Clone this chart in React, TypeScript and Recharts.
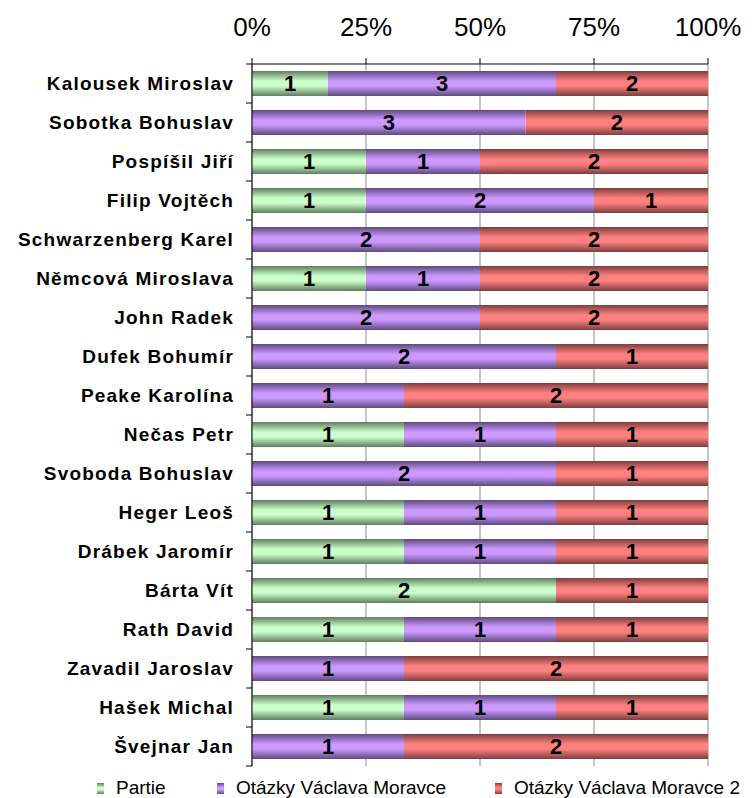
import { BarChart, Bar, XAxis, YAxis, CartesianGrid, LabelList } from "recharts";

const names = [
  "Kalousek Miroslav",
  "Sobotka Bohuslav",
  "Pospíšil Jiří",
  "Filip Vojtěch",
  "Schwarzenberg Karel",
  "Němcová Miroslava",
  "John Radek",
  "Dufek Bohumír",
  "Peake Karolína",
  "Nečas Petr",
  "Svoboda Bohuslav",
  "Heger Leoš",
  "Drábek Jaromír",
  "Bárta Vít",
  "Rath David",
  "Zavadil Jaroslav",
  "Hašek Michal",
  "Švejnar Jan",
];
const partie = [1, 0, 1, 1, 0, 1, 0, 0, 0, 1, 0, 1, 1, 2, 1, 0, 1, 0];
const otazky = [3, 3, 1, 2, 2, 1, 2, 2, 1, 1, 2, 1, 1, 0, 1, 1, 1, 1];
const otazky2 = [2, 2, 2, 1, 2, 2, 2, 1, 2, 1, 1, 1, 1, 1, 1, 2, 1, 2];
const seriesNames = ["Partie", "Otázky Václava Moravce", "Otázky Václava Moravce 2"];
const pctTicks = [0, 0.25, 0.5, 0.75, 1];

const data = names.map((name, i) => ({
  name,
  partie: partie[i],
  otazky: otazky[i],
  otazky2: otazky2[i],
}));

const colors = [
  { id: "gGreen", dark: "#5e7e5e", light: "#ccffcc" },
  { id: "gPurple", dark: "#5e4a80", light: "#cc99ff" },
  { id: "gRed", dark: "#7e3e3e", light: "#ff8080" },
];

const W = 747;
const H = 762;
const TOP = 56;
const BOTTOM = 4;
const half = (H - TOP - BOTTOM) / names.length / 2;
const font = "Liberation Sans, Arial, sans-serif";

const labelProps = {
  position: "center" as const,
  fill: "#000",
  fontFamily: font,
  fontWeight: "bold",
  fontSize: 22,
  formatter: (v: any) => (v ? v : ""),
};

function NameTick(props: any) {
  const { x, y, payload, index } = props;
  return (
    <g>
      <text
        x={x}
        y={y}
        dy={6}
        textAnchor="end"
        fontFamily={font}
        fontWeight="bold"
        fontSize={19}
        letterSpacing={1.2}
        fill="#000"
      >
        {payload.value}
      </text>
      <line x1={x + 12} x2={x + 18} y1={y - half} y2={y - half} stroke="#000" />
      {index === names.length - 1 && (
        <line x1={x + 12} x2={x + 18} y1={y + half} y2={y + half} stroke="#000" />
      )}
    </g>
  );
}

function Swatch({ c }: { c: (typeof colors)[number] }) {
  return (
    <span
      style={{
        display: "inline-block",
        width: 7,
        height: 11,
        marginRight: 12,
        background: `linear-gradient(${c.dark}, ${c.light} 40%, ${c.light} 60%, ${c.dark})`,
      }}
    />
  );
}

export default function App() {
  return (
    <div style={{ width: W, background: "#fff" }}>
      <BarChart
        width={W}
        height={H}
        data={data}
        layout="vertical"
        stackOffset="expand"
        barCategoryGap={7}
        margin={{ top: TOP - 30, right: 47, bottom: BOTTOM, left: 0 }}
      >
        <defs>
          {colors.map((c) => (
            <linearGradient key={c.id} id={c.id} x1="0" y1="0" x2="0" y2="1">
              <stop offset="0%" stopColor={c.dark} />
              <stop offset="40%" stopColor={c.light} />
              <stop offset="60%" stopColor={c.light} />
              <stop offset="100%" stopColor={c.dark} />
            </linearGradient>
          ))}
        </defs>
        <CartesianGrid horizontal={false} stroke="#8c8c8c" />
        <XAxis
          type="number"
          orientation="top"
          domain={[0, 1]}
          ticks={pctTicks}
          tickFormatter={(v: number) => `${Math.round(v * 100)}%`}
          height={30}
          tickSize={6}
          tickMargin={22}
          stroke="#000"
          tick={{ fill: "#000", fontSize: 26, fontFamily: font }}
        />
        <YAxis
          type="category"
          dataKey="name"
          width={244}
          tickLine={false}
          tickSize={6}
          tickMargin={12}
          stroke="#000"
          interval={0}
          tick={<NameTick />}
        />
        <Bar dataKey="partie" stackId="a" fill="url(#gGreen)" isAnimationActive={false}>
          <LabelList dataKey="partie" {...labelProps} />
        </Bar>
        <Bar dataKey="otazky" stackId="a" fill="url(#gPurple)" isAnimationActive={false}>
          <LabelList dataKey="otazky" {...labelProps} />
        </Bar>
        <Bar dataKey="otazky2" stackId="a" fill="url(#gRed)" isAnimationActive={false}>
          <LabelList dataKey="otazky2" {...labelProps} />
        </Bar>
      </BarChart>
      <div
        style={{
          position: "relative",
          height: 28,
          fontFamily: font,
          fontSize: 19,
          color: "#000",
        }}
      >
        {seriesNames.map((s, i) => (
          <span
            key={s}
            style={{
              position: "absolute",
              left: [89, 209, 487][i],
              top: 7,
              display: "flex",
              alignItems: "center",
              whiteSpace: "nowrap",
            }}
          >
            <Swatch c={colors[i]} />
            {s}
          </span>
        ))}
      </div>
    </div>
  );
}
